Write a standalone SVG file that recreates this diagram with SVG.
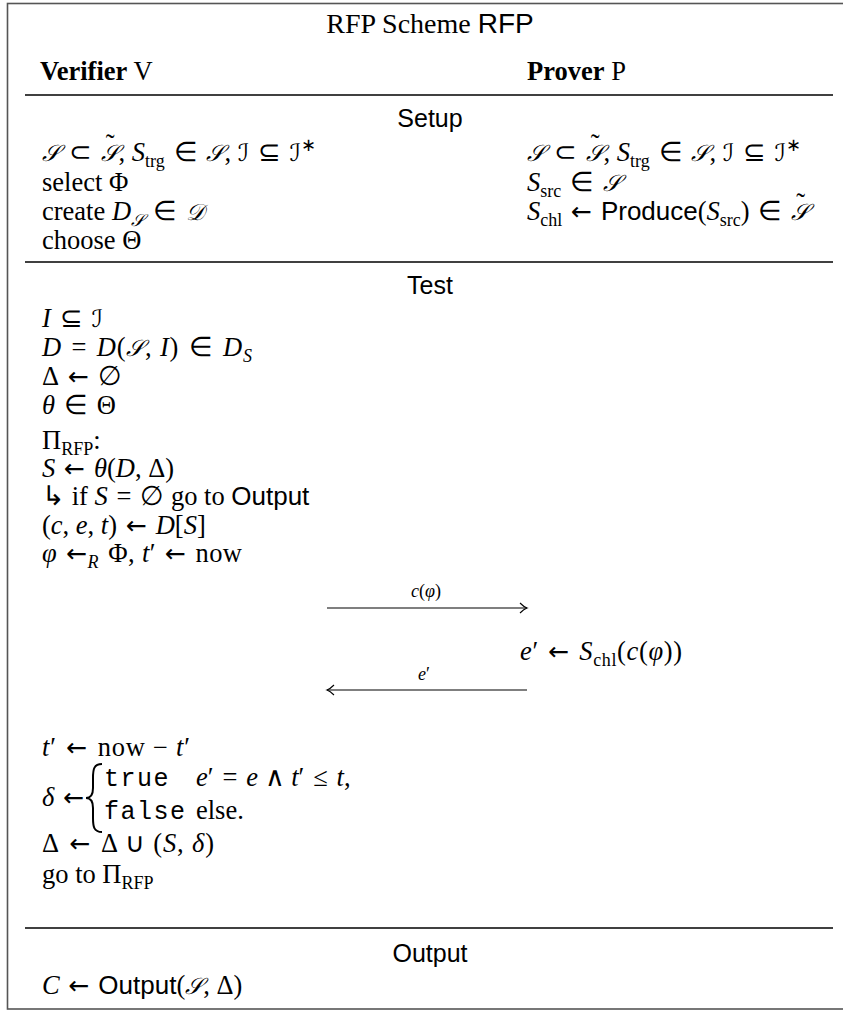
<svg xmlns="http://www.w3.org/2000/svg" width="843" height="1011" viewBox="0 0 843 1011">
<style>
text{font-family:"Liberation Serif",serif;font-size:26.5px;fill:#000}
.i{font-style:italic}
.b{font-weight:bold}
.sf{font-family:"Liberation Sans",sans-serif;font-size:25px}
.c{font-family:"DejaVu Serif","DejaVu Sans",serif;font-style:italic;font-size:23px}
.ci{font-family:"DejaVu Serif","DejaVu Sans",serif;font-style:normal;font-size:24px}
.ar{font-family:"DejaVu Sans",sans-serif;font-size:25px;font-style:normal}
.tt{font-family:"Liberation Mono",monospace;font-size:25px;letter-spacing:1.5px}
.sm{font-size:18px}
.lbl{font-size:18px}
.title{font-size:28px}
.rule{stroke:#000;stroke-width:1.6}
.frame{fill:none;stroke:#555;stroke-width:1.6}
.arr{stroke:#000;stroke-width:1.1;fill:none}
</style>
<defs>
<marker id="ah" markerWidth="12" markerHeight="12" refX="10" refY="6" orient="auto" markerUnits="userSpaceOnUse">
<path d="M3 1 Q7 5 10 6 Q7 7 3 11" fill="none" stroke="#000" stroke-width="1.1"/>
</marker>
</defs>
<g id="frame">
<rect class="frame" x="7.5" y="3.5" width="845" height="1005.5"/>
<line class="rule" x1="25" y1="95" x2="833" y2="95"/>
<line class="rule" x1="25" y1="262" x2="833" y2="262"/>
<line class="rule" x1="25" y1="928" x2="833" y2="928"/>
</g>
<g id="title">
<text class="title" x="430" y="33" text-anchor="middle">RFP Scheme <tspan class="sf" style="font-size:28px">RFP</tspan></text>
</g>
<g id="verifier">
<text x="40" y="80"><tspan class="b">Verifier</tspan> V</text>
</g>
<g id="prover">
<text x="527" y="80"><tspan class="b">Prover</tspan> P</text>
</g>
<g id="setup">
<text class="sf" x="430" y="127" text-anchor="middle">Setup</text>
<text x="42" y="161"><tspan class="c">𝒮</tspan>&#8196;⊂&#8196;<tspan class="c">𝒮</tspan><tspan dx="-13" dy="-8">˜</tspan><tspan dx="4" dy="8">, </tspan><tspan class="i">S</tspan><tspan class="sm" dy="6">trg</tspan><tspan dy="-6">&#8196;∈&#8196;</tspan><tspan class="c">𝒮</tspan>, <tspan class="ci">ℐ</tspan>&#8196;⊆&#8196;<tspan class="ci">ℐ</tspan><tspan class="sm" dy="-10">∗</tspan></text>
<text x="42" y="191">select Φ</text>
<text x="42" y="220">create <tspan class="i">D</tspan><tspan class="c" style="font-size:17px" dy="6">𝒮</tspan><tspan dy="-6">&#8196;∈&#8196;</tspan><tspan class="c">𝒟</tspan></text>
<text x="42" y="249">choose Θ</text>
<text x="527" y="161"><tspan class="c">𝒮</tspan>&#8196;⊂&#8196;<tspan class="c">𝒮</tspan><tspan dx="-13" dy="-8">˜</tspan><tspan dx="4" dy="8">, </tspan><tspan class="i">S</tspan><tspan class="sm" dy="6">trg</tspan><tspan dy="-6">&#8196;∈&#8196;</tspan><tspan class="c">𝒮</tspan>, <tspan class="ci">ℐ</tspan>&#8196;⊆&#8196;<tspan class="ci">ℐ</tspan><tspan class="sm" dy="-10">∗</tspan></text>
<text x="527" y="191"><tspan class="i">S</tspan><tspan class="sm" dy="6">src</tspan><tspan dy="-6">&#8196;∈&#8196;</tspan><tspan class="c">𝒮</tspan></text>
<text x="527" y="220"><tspan class="i">S</tspan><tspan class="sm" dy="6">chl</tspan><tspan dy="-6">&#8196;</tspan><tspan class="ar">←</tspan>&#8196;<tspan class="sf" style="font-size:26px">Produce</tspan>(<tspan class="i">S</tspan><tspan class="sm" dy="6">src</tspan><tspan dy="-6">)&#8196;∈&#8196;</tspan><tspan class="c">𝒮</tspan><tspan dx="-13" dy="-8">˜</tspan></text>
</g>
<g id="test">
<text class="sf" x="430" y="294" text-anchor="middle">Test</text>
<text x="42" y="327"><tspan class="i">I</tspan>&#8196;⊆&#8196;<tspan class="ci">ℐ</tspan></text>
<text x="42" y="356" textLength="210" lengthAdjust="spacing"><tspan class="i">D</tspan>&#8196;=&#8196;<tspan class="i">D</tspan>(<tspan class="c">𝒮</tspan>, <tspan class="i">I</tspan>)&#8196;∈&#8196;<tspan class="i">D</tspan><tspan class="sm i" dy="6">S</tspan></text>
<text x="42" y="385">Δ&#8196;<tspan class="ar">←</tspan>&#8196;∅</text>
<text x="42" y="414"><tspan class="i">θ</tspan>&#8196;∈&#8196;Θ</text>
<text x="42" y="449">Π<tspan class="sm" dy="6">RFP</tspan><tspan dy="-6">:</tspan></text>
<text x="42" y="477"><tspan class="i">S</tspan>&#8196;<tspan class="ar">←</tspan>&#8196;<tspan class="i">θ</tspan>(<tspan class="i">D</tspan>, Δ)</text>
<text x="42" y="505">↳ if <tspan class="i">S</tspan>&#8196;=&#8196;∅ go to <tspan class="sf" style="font-size:26px">Output</tspan></text>
<text x="42" y="534">(<tspan class="i">c</tspan>, <tspan class="i">e</tspan>, <tspan class="i">t</tspan>)&#8196;<tspan class="ar">←</tspan>&#8196;<tspan class="i">D</tspan>[<tspan class="i">S</tspan>]</text>
<text x="42" y="562" textLength="200" lengthAdjust="spacing"><tspan class="i">φ</tspan>&#8196;<tspan class="ar">←</tspan><tspan class="sm i" dy="6">R</tspan><tspan dy="-6">&#8196;Φ, </tspan><tspan class="i">t</tspan>′&#8196;<tspan class="ar">←</tspan>&#8196;now</text>
<text x="520" y="660" textLength="162" lengthAdjust="spacing"><tspan class="i">e</tspan>′&#8196;<tspan class="ar">←</tspan>&#8196;<tspan class="i">S</tspan><tspan class="sm" dy="6">chl</tspan><tspan dy="-6">(</tspan><tspan class="i">c</tspan>(<tspan class="i">φ</tspan>))</text>
<text x="42" y="756" textLength="148" lengthAdjust="spacing"><tspan class="i">t</tspan>′&#8196;<tspan class="ar">←</tspan>&#8196;now − <tspan class="i">t</tspan>′</text>
<text x="42" y="806"><tspan class="i">δ</tspan>&#8196;<tspan class="ar">←</tspan></text>
<path d="M102 764 C94 764 93 769 93 778 L93 788 C93 795 91 798 86 798 C91 798 93 801 93 808 L93 818 C93 827 94 832 102 832" fill="none" stroke="#000" stroke-width="2"/>
<text class="tt" x="104" y="786">true</text>
<text x="196" y="786"><tspan class="i">e</tspan>′&#8196;=&#8196;<tspan class="i">e</tspan> ∧ <tspan class="i">t</tspan>′&#8196;≤&#8196;<tspan class="i">t</tspan>,</text>
<text class="tt" x="104" y="819">false</text>
<text x="196" y="819">else.</text>
<text x="42" y="852" textLength="172" lengthAdjust="spacing">Δ&#8196;<tspan class="ar">←</tspan>&#8196;Δ ∪ (<tspan class="i">S</tspan>, <tspan class="i">δ</tspan>)</text>
<text x="42" y="883">go to Π<tspan class="sm" dy="6">RFP</tspan></text>
</g>
<g id="output">
<text class="sf" x="430" y="962" text-anchor="middle">Output</text>
<text x="42" y="994"><tspan class="i">C</tspan>&#8196;<tspan class="ar">←</tspan>&#8196;<tspan class="sf" style="font-size:26px">Output</tspan>(<tspan class="c">𝒮</tspan>, Δ)</text>
</g>
<g id="connectors">
<line class="arr" x1="327" y1="608" x2="527" y2="608" marker-end="url(#ah)"/>
<text class="lbl" x="426" y="597" text-anchor="middle"><tspan class="i">c</tspan>(<tspan class="i">φ</tspan>)</text>
<line class="arr" x1="527" y1="690" x2="327" y2="690" marker-end="url(#ah)"/>
<text class="lbl" x="424" y="680" text-anchor="middle"><tspan class="i">e</tspan>′</text>
</g>
</svg>
